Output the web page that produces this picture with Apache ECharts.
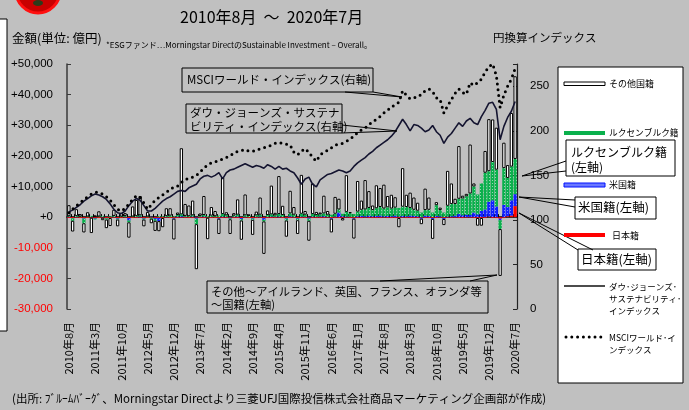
<!DOCTYPE html>
<html>
<head>
<meta charset="utf-8">
<script src="https://cdn.jsdelivr.net/npm/echarts@6/dist/echarts.min.js"></script>
<style>
html,body{margin:0;padding:0;background:#c0c0c0;}
#c{width:689px;height:410px;}
</style>
</head>
<body>
<div id="c"></div>
<script>
// Monthly categories, Aug 2010 .. Jul 2020
const months = [];
for (let y = 2010, m = 8; months.length < 120; ) {
  months.push(y + '年' + m + '月');
  m++; if (m > 12) { m = 1; y++; }
}

// Net flows into ESG funds by domicile (億円)
const otherFlow = [
  3600, -3500, 2200, 800, -3000,
  1400, -5000, 600, 1700, -800, -2800, -2600, 2000, -2200, 1200, 900, -5000,
  3300, 5200, 6300, -2200, 1500, -1500, -3300, -3300, -3000, 2500, 2400, -6800,
  800, 21600, 3900, 3500, 4800, -14700, 800, 6200, -7000, 2800, 1700, -5000,
  12000, 1000, -4800, 800, 5000, -6300, 6800, 500, -4900, 1200, 5600, -10600,
  1500, 9400, 800, 12400, 3000, -5300, 7400, 2500, -4500, 12700, 1200, -6500,
  10000, 1000, 600, 5800, 1200, -4500, 5500, 3500, -800, 12000, 300, -6500,
  10000, 3000, 9600, 5500, 1500, 7500, 6200, 7800, 3700, 4500, 3400, -3000,
  12600, 4000, 5000, 4000, 2600, -1800, 7000, 4000, -6500, 1000, 800, -2000,
  11400, 6700, 1700, 17200, 900, 800, 16000, 1000, -2500, -2500, 7100, 17000,
  13900, 13700, -15300, 8300, 4200, 17500, 27000
];
const luxFlow = [
  200, -800, 300, 200, -1500,
  200, 300, -300, 200, 300, -400, 200, 300, -300, 200, 300, -600,
  200, 300, 400, -300, 200, -300, -600, 300, 200, 300, 500, 200,
  500, 600, 300, 300, 400, -1800, 300, 500, 300, 400, 300, 500,
  800, 500, -300, 400, 600, -500, 500, 400, -400, 500, 600, -500,
  600, 700, 500, 800, 600, -600, 900, 700, -500, 900, 700, -700,
  800, 600, 700, 900, 700, 800, 900, 1000, 800, 1500, 1200, 1000,
  1500, 2000, 2200, 2500, 2000, 2500, 2800, 2500, 2800, 2500, 2600, 2800,
  3000, 3000, 2500, 2000, 1800, 1500, 1800, 2000, 1500, 3500, 2000, 1500,
  3500, 4000, 3800, 5000, 5500, 6000, 7000, 8500, 6500, 9000, 12000, 10000,
  12500, 12000, -2900, 12000, 9500, 11000, 11500
];
const usFlow = [
  100, -100, 100, 0, -200,
  0, 100, -200, 0, 100, -100, 0, 100, -200, 0, 100, -800,
  0, 100, 200, -200, 0, 100, -300, -1000, 0, 100, 0, -200,
  200, 300, 100, 0, 200, -300, 100, 200, 0, 100, 0, -200,
  200, 100, -200, 100, 200, -300, 100, 0, -200, 100, 200, -600,
  100, 200, 100, 200, 100, -200, 300, 100, -200, 200, 100, -300,
  200, 100, 200, 300, 100, -200, 200, 1500, 300, 200, 100, -200,
  300, 400, 300, 500, 300, 400, 500, 300, 400, 300, 500, 200,
  400, 300, 500, 400, 300, -300, 500, 400, -300, 400, 300, -300,
  200, 300, 500, 1000, 600, 800, 700, 1500, 900, 2000, 2500, 4800,
  5500, 3500, -500, 4000, 3000, 5000, 3900
];
const jpFlow = [
  -300, -300, -200, -300, -300,
  -300, -200, -300, -300, -200, -300, -300, -200, -300, -300, -200, -300,
  -300, -300, -200, -300, -300, -200, -300, -300, -300, -200, -300, -300,
  -300, -200, -300, -300, -300, -200, -300, -300, -200, -300, -300, -300,
  -300, -300, -200, -300, -300, -300, -200, -300, -300, -300, -200, -300,
  -300, -300, -300, -200, -300, -300, -300, -200, -300, -300, -300, -200,
  -300, -300, -300, -300, -200, -300, -300, -300, -300, -200, -300, -300,
  -300, -300, -200, -300, -300, -300, -300, -200, -300, -300, -300, -300,
  -200, -300, -300, -300, -300, -200, -300, -300, -300, -300, -200, -300,
  -200, -200, -200, -300, -300, -200, -200, -300, -300, -300, -300, 200,
  -300, -300, -500, -300, 300, 500, 3600
];

// Yen-based indices (right axis)
const djsi = [
  109, 111, 114, 117, 121,
  124, 127, 129, 128, 126, 123, 118, 112, 108, 107, 110, 116,
  121, 124, 122, 116, 110, 110, 113, 117, 121, 124, 126, 129,
  132, 133, 132, 136, 138, 140, 146, 149, 150, 148, 150, 153,
  146, 153, 156, 157, 159, 161, 163, 161, 159, 161, 160, 158,
  162, 160, 157, 160, 157, 158, 155, 153, 147, 140, 146, 148,
  140, 137, 145, 148, 151, 152, 154, 156, 155, 153, 155, 160,
  164, 167, 170, 174, 177, 181, 184, 187, 190, 194, 199, 206,
  213, 207, 200, 207, 206, 203, 199, 201, 206, 199, 195, 186,
  193, 197, 203, 209, 205, 211, 214, 209, 207, 216, 223, 231,
  232, 224, 190, 205, 215, 222, 233
];
const msciWorld = [
  108, 112, 116, 119, 123,
  126, 129, 131, 131, 129, 126, 122, 117, 112, 110, 113, 118,
  123, 127, 125, 119, 112, 117, 122, 125, 128, 131, 134, 137,
  138, 142, 145, 147, 148, 150, 154, 158, 162, 164, 165, 167,
  168, 170, 172, 175, 177, 178, 179, 177, 177, 178, 180, 181,
  182, 184, 186, 187, 186, 185, 184, 176, 173, 177, 180, 176,
  170, 166, 173, 176, 178, 181, 184, 185, 186, 188, 191, 194,
  198, 201, 203, 207, 210, 213, 216, 220, 223, 227, 229, 232,
  245, 240, 236, 237, 238, 241, 245, 247, 244, 237, 235, 220,
  228, 235, 242, 247, 243, 241, 254, 251, 254, 258, 266, 272,
  275, 262, 226, 240, 250, 258, 270
];

// Axis ticks
const leftTicks = [-30000, -20000, -10000, 0, 10000, 20000, 30000, 40000, 50000];
const rightTicks = [0, 50, 100, 150, 200, 250];
const rightMax = 275;

const JP = '"Noto Sans CJK JP", sans-serif';
const NUM = '"Liberation Sans", Arial, sans-serif';

function txt(x, y, text, size, opt) {
  opt = opt || {};
  return {
    type: 'text', x: x, y: y, z: 100,
    style: {
      text: text, fill: opt.fill || '#000',
      font: (opt.weight || 'normal') + ' ' + size + 'px ' + (opt.family || JP),
      textVerticalAlign: 'middle', verticalAlign: 'middle'
    }
  };
}
function box(x, y, w, h, fill, shadow) {
  const out = [];
  if (shadow) out.push({ type: 'rect', z: 98, shape: { x: x + 2, y: y + 2, width: w, height: h }, style: { fill: '#000' } });
  out.push({ type: 'rect', z: 99, shape: { x: x, y: y, width: w, height: h }, style: { fill: fill, stroke: '#000', lineWidth: 1 } });
  return out;
}
function leader(points) {
  return { type: 'polyline', z: 99, shape: { points: points }, style: { stroke: '#000', lineWidth: 1, fill: null } };
}

const greenDecal = { symbol: 'rect', symbolSize: 1, dashArrayX: [1, 2], dashArrayY: [1, 2], color: 'rgba(255,255,255,0.55)' };
const blueDecal = { symbol: 'rect', symbolSize: 1, dashArrayX: [1, 2], dashArrayY: [1, 2], color: 'rgba(255,255,255,0.45)' };

const fmt = v => Math.abs(v).toLocaleString('en-US');

const graphics = [
  // corner emblem
  { type: 'circle', z: 100, shape: { cx: 38, cy: -9, r: 22 }, style: { fill: '#c80000', stroke: '#ff1010', lineWidth: 3 } },
  { type: 'ellipse', z: 101, shape: { cx: 38, cy: 3, rx: 5, ry: 3 }, style: { fill: '#2b3b1b' } },
  // neighbouring panel edge
  { type: 'rect', z: 100, shape: { x: -2, y: 19, width: 9, height: 312 }, style: { fill: '#fff', stroke: '#000', lineWidth: 1 } },

  txt(180, 17, '2010年8月  ～  2020年7月', 16),
  txt(12, 38, '金額(単位: 億円)', 12.5),
  txt(106, 45, '*ESGファンド…Morningstar DirectのSustainable Investment – Overall。', 8),
  txt(493, 38, '円換算インデックス', 11.5),

  // callouts
  ...box(182, 68, 191, 24, '#c0c0c0'),
  leader([[345, 92], [402, 97], [373, 92]]),
  txt(187, 80, 'MSCIワールド・インデックス(右軸)', 11.5),

  ...box(186, 104, 156, 29, '#c0c0c0'),
  leader([[342, 125], [397, 131], [342, 133]]),
  txt(190, 113, 'ダウ・ジョーンズ・サステナ', 11.5),
  txt(190, 127, 'ビリティ・インデックス(右軸)', 11.5),

  ...box(207, 281, 281, 32, '#c0c0c0'),
  leader([[380, 281], [497, 275], [470, 281]]),
  txt(211, 292, 'その他～アイルランド、英国、フランス、オランダ等', 11.3),
  txt(211, 305, '～国籍(左軸)', 11.3),

  // legend
  { type: 'rect', z: 99, shape: { x: 558, y: 67, width: 125, height: 316 }, style: { fill: '#fff', stroke: '#000', lineWidth: 1 } },
  { type: 'rect', z: 100, shape: { x: 564, y: 82, width: 41, height: 3.5 }, style: { fill: '#fff', stroke: '#000', lineWidth: 1 } },
  txt(609, 83.5, 'その他国籍', 9),
  { type: 'rect', z: 100, shape: { x: 564, y: 131, width: 41, height: 4 }, style: { fill: '#0ab04c' } },
  txt(609, 133, 'ルクセンブルク籍', 8.7),
  { type: 'rect', z: 100, shape: { x: 564, y: 183, width: 41, height: 4 }, style: { fill: '#6a78ff', stroke: '#0010ff', lineWidth: 1 } },
  txt(609, 185, '米国籍', 9),
  { type: 'rect', z: 100, shape: { x: 564, y: 233, width: 41, height: 4 }, style: { fill: '#ff0000' } },
  txt(612, 236, '日本籍', 9),
  { type: 'line', z: 100, shape: { x1: 564, y1: 286, x2: 605, y2: 286 }, style: { stroke: '#111', lineWidth: 1.5 } },
  txt(609, 287, 'ダウ･ジョーンズ･', 8.5),
  txt(609, 299, 'サステナビリティ･', 8.5),
  txt(609, 311, 'インデックス', 8.5),
  { type: 'line', z: 100, shape: { x1: 566, y1: 337, x2: 605, y2: 337 }, style: { stroke: '#000', lineWidth: 3, lineDash: [0, 5.8], lineCap: 'round' } },
  txt(609, 338, 'MSCIワールド･イ', 8.5),
  txt(609, 350, 'ンデックス', 8.5),

  // domicile callouts (white boxes)
  ...box(566, 140, 109, 36, '#fff', true),
  leader([[566, 161], [522, 176], [566, 171]]),
  txt(571, 152, 'ルクセンブルク籍', 12),
  txt(571, 167, '(左軸)', 12),

  ...box(575, 197, 81, 22, '#fff', true),
  leader([[575, 200], [519, 197], [575, 207]]),
  txt(578, 207.5, '米国籍(左軸)', 12.5),

  ...box(578, 249, 78, 21, '#fff', true),
  leader([[578, 250], [519, 213], [593, 250]]),
  txt(581, 259.5, '日本籍(左軸)', 12.5),

  txt(12, 399, '(出所: ﾌﾞﾙｰﾑﾊﾞｰｸﾞ、Morningstar Directより三菱UFJ国際投信株式会社商品マーケティング企画部が作成)', 11.5)
];

const barCommon = { type: 'bar', stack: 'flow', xAxisIndex: 0, yAxisIndex: 0, barWidth: 3.3, barGap: '0%', animation: false };

const option = {
  backgroundColor: '#c0c0c0',
  animation: false,
  grid: { left: 67, right: 172, top: 64, bottom: 101, containLabel: false },
  xAxis: [
    {
      type: 'category', data: months, position: 'bottom',
      axisLine: { show: false, onZero: false }, axisTick: { show: false },
      axisLabel: { interval: 6, rotate: 90, margin: 13, fontSize: 11, fontFamily: JP, color: '#000' }
    },
    {
      type: 'category', data: months, position: 'top',
      axisLine: { show: true, onZero: true, onZeroAxisIndex: 0, lineStyle: { color: '#000', width: 1.5 } },
      axisTick: { show: true, interval: 0, length: 3, lineStyle: { color: '#000', width: 1 } },
      axisLabel: { show: false }
    }
  ],
  yAxis: [
    {
      type: 'value', position: 'left',
      min: leftTicks[0], max: leftTicks[leftTicks.length - 1], interval: leftTicks[1] - leftTicks[0],
      splitLine: { show: false },
      axisLine: { show: true, lineStyle: { color: '#3a3a3a', width: 1.5 } },
      axisTick: { show: true, inside: true, length: 4, lineStyle: { color: '#3a3a3a' } },
      axisLabel: {
        margin: 14,
        formatter: v => v < 0 ? '{n|-' + fmt(v) + '}' : '{p|+' + fmt(v) + '}',
        rich: {
          p: { color: '#000', fontSize: 11.5, fontFamily: NUM },
          n: { color: '#ff0000', fontSize: 11.5, fontFamily: NUM }
        }
      }
    },
    {
      type: 'value', position: 'right',
      min: rightTicks[0], max: rightMax, interval: rightTicks[1] - rightTicks[0],
      splitLine: { show: false },
      axisLine: { show: true, lineStyle: { color: '#222', width: 1.2 } },
      axisTick: { show: true, inside: true, length: 4, lineStyle: { color: '#222' } },
      axisLabel: {
        margin: 13, fontSize: 11.5, fontFamily: NUM, color: '#000',
        formatter: v => rightTicks.indexOf(v) >= 0 ? String(v) : ''
      }
    }
  ],
  series: [
    Object.assign({}, barCommon, { name: '日本籍', data: jpFlow, itemStyle: { color: '#ff0000' } }),
    Object.assign({}, barCommon, { name: '米国籍', data: usFlow, itemStyle: { color: '#1020ff', decal: blueDecal } }),
    Object.assign({}, barCommon, { name: 'ルクセンブルク籍', data: luxFlow, itemStyle: { color: '#0ab04c', decal: greenDecal } }),
    Object.assign({}, barCommon, { name: 'その他国籍', data: otherFlow, itemStyle: { color: '#ffffff', borderColor: '#000', borderWidth: 1 } }),
    {
      type: 'line', name: 'ダウ・ジョーンズ・サステナビリティ・インデックス', data: djsi,
      xAxisIndex: 0, yAxisIndex: 1, showSymbol: false, symbol: 'none', z: 5,
      lineStyle: { color: '#141430', width: 1.6 }
    },
    {
      type: 'line', name: 'MSCIワールド・インデックス', data: msciWorld,
      xAxisIndex: 0, yAxisIndex: 1, showSymbol: false, symbol: 'none', z: 6,
      lineStyle: { color: '#000', width: 3, type: [0, 5.8], cap: 'round' }
    }
  ],
  graphic: { elements: graphics }
};

const chart = echarts.init(document.getElementById('c'));
chart.setOption(option);
</script>
</body>
</html>
